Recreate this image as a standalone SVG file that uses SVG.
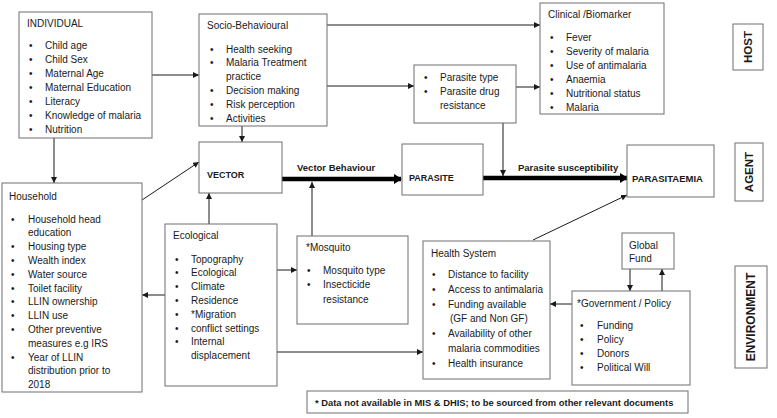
<svg xmlns="http://www.w3.org/2000/svg" width="777" height="418" viewBox="0 0 777 418">
<style>
.box{fill:#fff;stroke:#6f6f6f;stroke-width:1}
.t{font-family:"Liberation Sans",Arial,sans-serif;font-size:10px;fill:#1a1a1a}
.b{font-family:"Liberation Sans",Arial,sans-serif;font-weight:bold;fill:#1a1a1a}
.ln{stroke:#1a1a1a;stroke-width:1;fill:none}
.thick{stroke:#000;stroke-width:4.5;fill:none}
</style>
<defs>
<marker id="ah" markerUnits="userSpaceOnUse" markerWidth="6" markerHeight="6" refX="6" refY="3" orient="auto">
<path d="M0,0 L6,3 L0,6 z" fill="#1a1a1a"/>
</marker>
<marker id="ahT" markerUnits="userSpaceOnUse" markerWidth="8" markerHeight="10" refX="7" refY="5" orient="auto">
<path d="M0,0 L8,5 L0,10 z" fill="#000"/>
</marker>
</defs>
<rect width="777" height="418" fill="#fff"/>

<g id="connectors">
<line class="ln" x1="152" y1="75" x2="199" y2="75" marker-end="url(#ah)"/>
<line class="ln" x1="54" y1="138" x2="54" y2="183" marker-end="url(#ah)"/>
<line class="ln" x1="327" y1="25" x2="540" y2="25" marker-end="url(#ah)"/>
<line class="ln" x1="327" y1="86" x2="414" y2="86" marker-end="url(#ah)"/>
<line class="ln" x1="242" y1="126" x2="242" y2="142" marker-end="url(#ah)"/>
<line class="ln" x1="516" y1="87" x2="540" y2="87" marker-end="url(#ah)"/>
<line class="ln" x1="503" y1="123" x2="503" y2="176" marker-end="url(#ah)"/>
<line class="ln" x1="142" y1="200" x2="199" y2="162" marker-end="url(#ah)"/>
<line class="ln" x1="209" y1="224" x2="209" y2="193" marker-end="url(#ah)"/>
<line class="ln" x1="165" y1="295" x2="142" y2="295" marker-end="url(#ah)"/>
<line class="ln" x1="277" y1="270" x2="297" y2="270" marker-end="url(#ah)"/>
<line class="ln" x1="277" y1="352" x2="423" y2="352" marker-end="url(#ah)"/>
<line class="ln" x1="312" y1="236" x2="312" y2="182" marker-end="url(#ah)"/>
<line class="ln" x1="533" y1="240" x2="627" y2="195" marker-end="url(#ah)"/>
<line class="ln" x1="572" y1="304" x2="550" y2="304" marker-end="url(#ah)"/>
<line class="ln" x1="630" y1="269" x2="630" y2="291" marker-end="url(#ah)"/>
<line class="ln" x1="662" y1="291" x2="662" y2="269" marker-end="url(#ah)"/>
<line class="thick" x1="282" y1="179" x2="401" y2="179" marker-end="url(#ahT)"/>
<line class="thick" x1="483" y1="178" x2="627" y2="178" marker-end="url(#ahT)"/>
<text class="b" font-size="9.5" x="297" y="170.5">Vector Behaviour</text>
<text class="b" font-size="9.5" x="518" y="170.5">Parasite susceptibility</text>
</g>

<g id="individual">
<rect class="box" x="19" y="12" width="133" height="126"/>
<text class="t" x="27" y="27">INDIVIDUAL</text>
<g class="t">
<text x="29" y="49">•</text><text x="45" y="49">Child age</text>
<text x="29" y="63">•</text><text x="45" y="63">Child Sex</text>
<text x="29" y="77">•</text><text x="45" y="77">Maternal Age</text>
<text x="29" y="90.5">•</text><text x="45" y="90.5">Maternal Education</text>
<text x="29" y="104.5">•</text><text x="45" y="104.5">Literacy</text>
<text x="29" y="118.5">•</text><text x="45" y="118.5">Knowledge of malaria</text>
<text x="29" y="132.5">•</text><text x="45" y="132.5">Nutrition</text>
</g>
</g>

<g id="socio">
<rect class="box" x="199" y="14" width="128" height="112"/>
<text class="t" x="207" y="29">Socio-Behavioural</text>
<g class="t">
<text x="210" y="52.5">•</text><text x="226" y="52.5">Health seeking</text>
<text x="210" y="66.3">•</text><text x="226" y="66.3">Malaria Treatment</text>
<text x="226" y="80.1">practice</text>
<text x="210" y="93.9">•</text><text x="226" y="93.9">Decision making</text>
<text x="210" y="107.7">•</text><text x="226" y="107.7">Risk perception</text>
<text x="210" y="121.5">•</text><text x="226" y="121.5">Activities</text>
</g>
</g>

<g id="clinical">
<rect class="box" x="540" y="3" width="124" height="111"/>
<text class="t" x="548" y="17.5">Clinical /Biomarker</text>
<g class="t">
<text x="550" y="40.5">•</text><text x="566" y="40.5">Fever</text>
<text x="550" y="54.5">•</text><text x="566" y="54.5">Severity of malaria</text>
<text x="550" y="68.5">•</text><text x="566" y="68.5">Use of antimalaria</text>
<text x="550" y="82.5">•</text><text x="566" y="82.5">Anaemia</text>
<text x="550" y="96.5">•</text><text x="566" y="96.5">Nutritional status</text>
<text x="550" y="110.5">•</text><text x="566" y="110.5">Malaria</text>
</g>
</g>

<g id="parasite-type">
<rect class="box" x="414" y="65" width="102" height="58"/>
<g class="t">
<text x="424" y="80.5">•</text><text x="440" y="80.5">Parasite type</text>
<text x="424" y="94.5">•</text><text x="440" y="94.5">Parasite drug</text>
<text x="440" y="108.5">resistance</text>
</g>
</g>

<g id="host">
<rect class="box" x="733" y="24" width="30" height="46"/>
<text class="b" font-size="11.5" transform="translate(752,47) rotate(-90)" text-anchor="middle">HOST</text>
</g>

<g id="vector">
<rect class="box" x="199" y="142" width="83" height="51"/>
<text class="b" font-size="9" x="207" y="178">VECTOR</text>
</g>

<g id="parasite">
<rect class="box" x="402" y="144" width="81" height="51"/>
<text class="b" font-size="9" x="409" y="181">PARASITE</text>
</g>

<g id="parasitaemia">
<rect class="box" x="627" y="145" width="87" height="52"/>
<text class="b" font-size="9.5" x="632" y="182">PARASITAEMIA</text>
</g>

<g id="agent">
<rect class="box" x="735" y="143" width="28" height="58"/>
<text class="b" font-size="11.5" transform="translate(753,172) rotate(-90)" text-anchor="middle">AGENT</text>
</g>

<g id="household">
<rect class="box" x="2" y="183" width="140" height="209"/>
<text class="t" x="9" y="199.5">Household</text>
<g class="t">
<text x="11" y="222.5">•</text><text x="28" y="222.5">Household head</text>
<text x="28" y="236.3">education</text>
<text x="11" y="250.1">•</text><text x="28" y="250.1">Housing type</text>
<text x="11" y="263.9">•</text><text x="28" y="263.9">Wealth index</text>
<text x="11" y="277.7">•</text><text x="28" y="277.7">Water source</text>
<text x="11" y="291.5">•</text><text x="28" y="291.5">Toilet facility</text>
<text x="11" y="305.3">•</text><text x="28" y="305.3">LLIN ownership</text>
<text x="11" y="319.1">•</text><text x="28" y="319.1">LLIN use</text>
<text x="11" y="332.9">•</text><text x="28" y="332.9">Other preventive</text>
<text x="28" y="346.7">measures e.g IRS</text>
<text x="11" y="360.5">•</text><text x="28" y="360.5">Year of LLIN</text>
<text x="28" y="374.3">distribution prior to</text>
<text x="28" y="388.1">2018</text>
</g>
</g>

<g id="ecological">
<rect class="box" x="165" y="224" width="112" height="162"/>
<text class="t" x="173" y="238.5">Ecological</text>
<g class="t">
<text x="175" y="262.5">•</text><text x="191" y="262.5">Topography</text>
<text x="175" y="276.3">•</text><text x="191" y="276.3">Ecological</text>
<text x="175" y="290.1">•</text><text x="191" y="290.1">Climate</text>
<text x="175" y="303.9">•</text><text x="191" y="303.9">Residence</text>
<text x="175" y="317.7">•</text><text x="191" y="317.7">*Migration</text>
<text x="175" y="331.5">•</text><text x="191" y="331.5">conflict settings</text>
<text x="175" y="345.3">•</text><text x="191" y="345.3">Internal</text>
<text x="191" y="359.1">displacement</text>
</g>
</g>

<g id="mosquito">
<rect class="box" x="297" y="236" width="111" height="88"/>
<text class="t" x="306" y="250.5">*Mosquito</text>
<g class="t">
<text x="307" y="273.5">•</text><text x="323" y="273.5">Mosquito type</text>
<text x="307" y="288">•</text><text x="323" y="288">Insecticide</text>
<text x="323" y="302.5">resistance</text>
</g>
</g>

<g id="health-system">
<rect class="box" x="423" y="241" width="127" height="138"/>
<text class="t" x="431" y="256.5">Health System</text>
<g class="t">
<text x="432" y="277.5">•</text><text x="448" y="277.5">Distance to facility</text>
<text x="432" y="292.5">•</text><text x="448" y="292.5">Access to antimalaria</text>
<text x="432" y="307.5">•</text><text x="448" y="307.5">Funding available</text>
<text x="450" y="322">(GF and Non GF)</text>
<text x="432" y="337">•</text><text x="448" y="337">Availability of other</text>
<text x="448" y="352">malaria commodities</text>
<text x="432" y="367">•</text><text x="448" y="367">Health insurance</text>
</g>
</g>

<g id="global-fund">
<rect class="box" x="622" y="233" width="52" height="36"/>
<text class="t" x="629" y="248.5">Global</text>
<text class="t" x="629" y="261.5">Fund</text>
</g>

<g id="government">
<rect class="box" x="572" y="291" width="118" height="94"/>
<text class="t" x="577" y="306.5">*Government / Policy</text>
<g class="t">
<text x="580" y="328.5">•</text><text x="597" y="328.5">Funding</text>
<text x="580" y="342.5">•</text><text x="597" y="342.5">Policy</text>
<text x="580" y="356.5">•</text><text x="597" y="356.5">Donors</text>
<text x="580" y="370.5">•</text><text x="597" y="370.5">Political Will</text>
</g>
</g>

<g id="environment">
<rect class="box" x="735" y="266" width="32" height="102"/>
<text class="b" font-size="12" transform="translate(755,317) rotate(-90)" text-anchor="middle">ENVIRONMENT</text>
</g>

<g id="footnote">
<rect class="box" x="307" y="391" width="381" height="22"/>
<text class="b" font-size="9.4" x="315" y="405.5">* Data not available in MIS &amp; DHIS; to be sourced from other relevant documents</text>
</g>
</svg>
